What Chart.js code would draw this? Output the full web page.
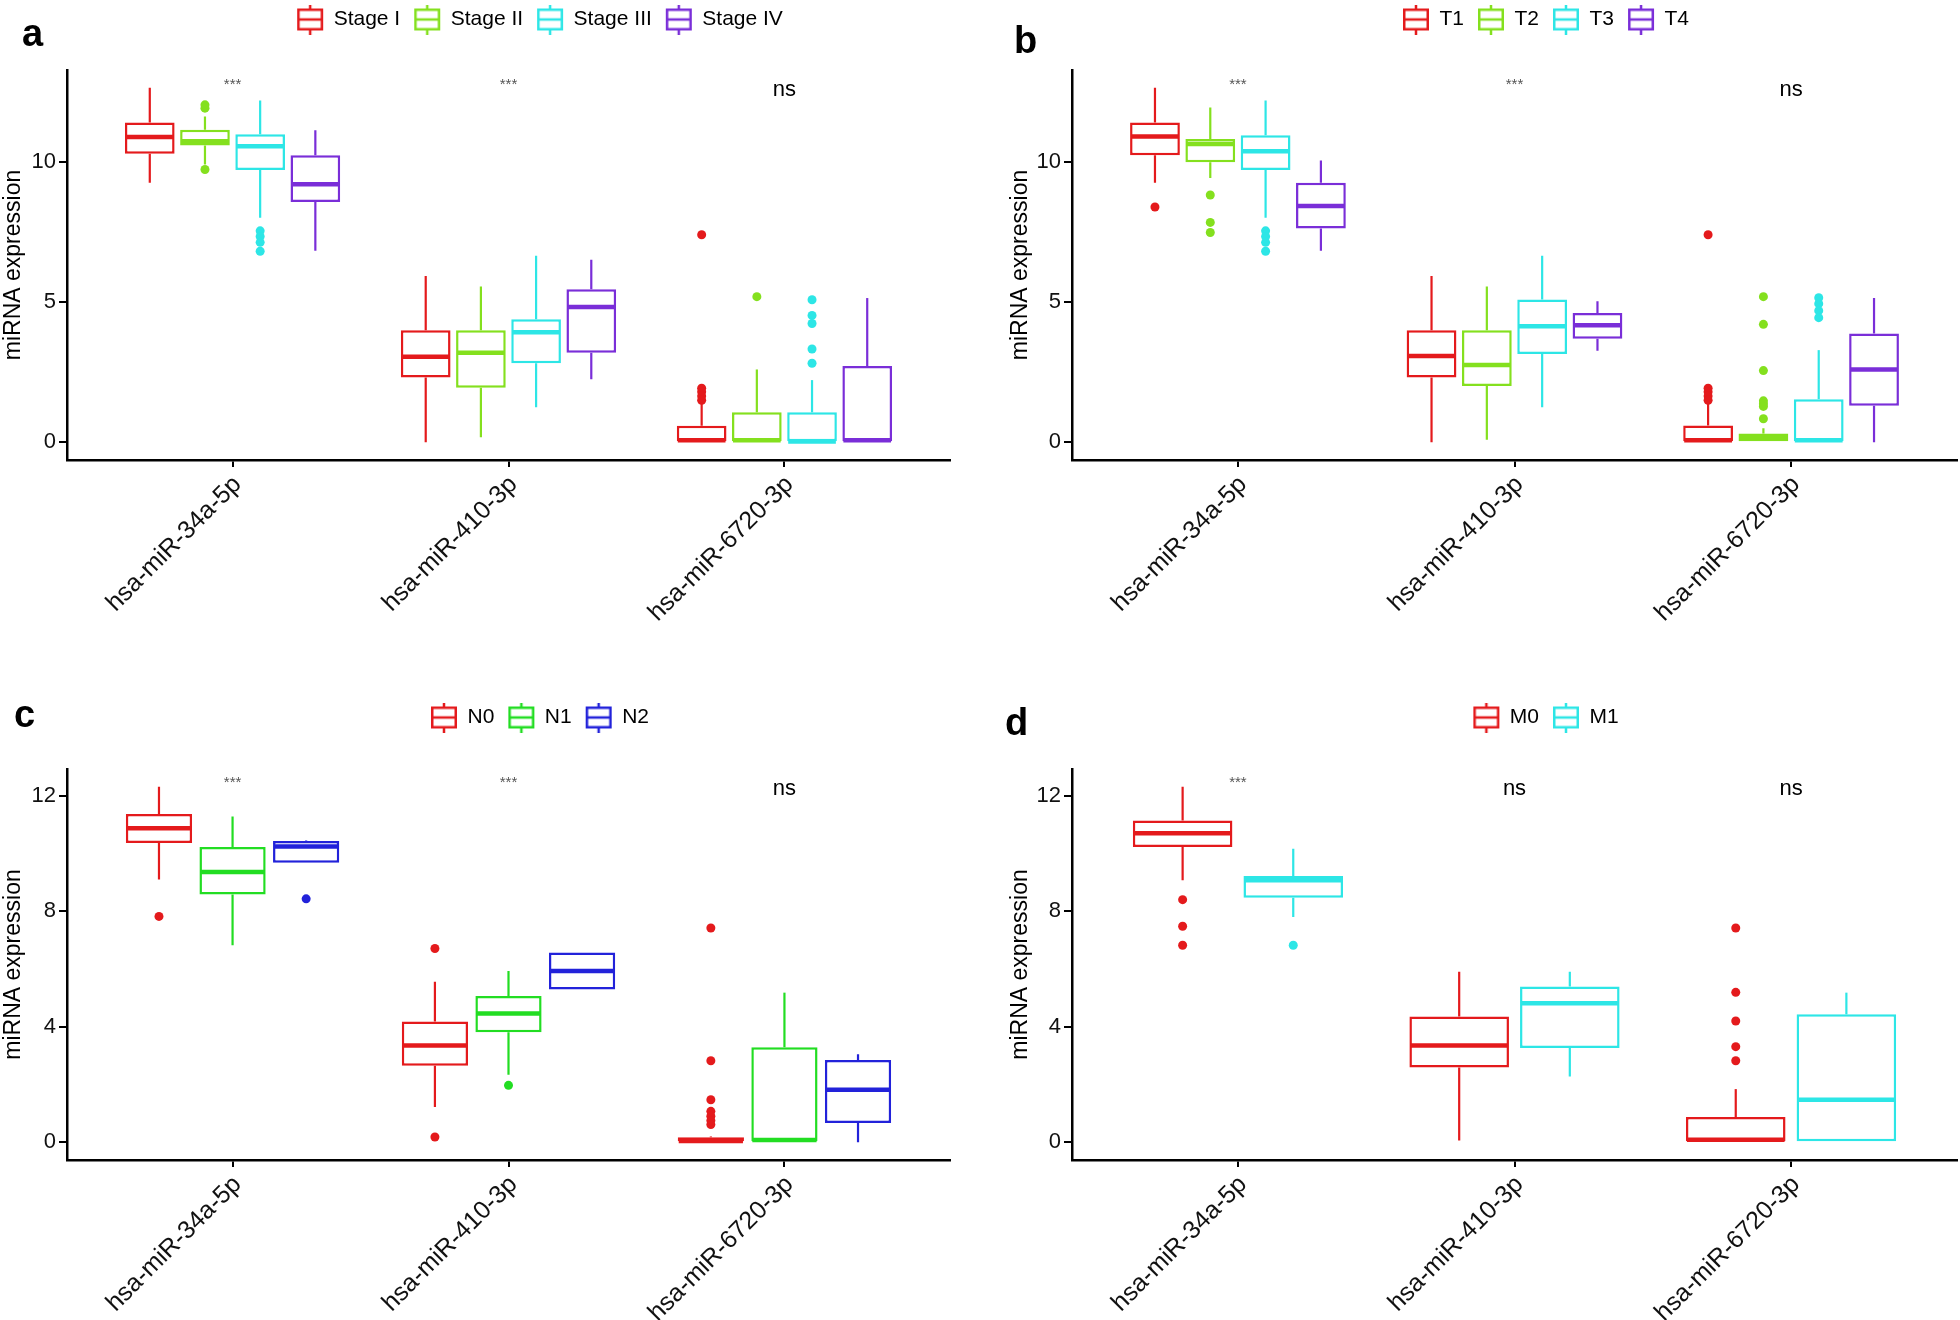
<!DOCTYPE html>
<html><head><meta charset="utf-8">
<script src="https://cdn.jsdelivr.net/npm/chart.js@4.4.1/dist/chart.umd.min.js"></script>
<style>
html,body{margin:0;padding:0;background:#fff;overflow:hidden;width:1960px;height:1320px;position:relative}
canvas{position:absolute}
.lbl{position:absolute;font:bold 38px 'Liberation Sans',Arial,sans-serif;line-height:38px;color:#000}
</style></head><body>
<canvas id="pa"></canvas><canvas id="pb"></canvas><canvas id="pc"></canvas><canvas id="pd"></canvas>
<div class="lbl" style="left:22px;top:14px">a</div>
<div class="lbl" style="left:1014px;top:21px">b</div>
<div class="lbl" style="left:14px;top:695px">c</div>
<div class="lbl" style="left:1005px;top:703px">d</div>
<script>
// ---------------- DATA ----------------
const categories = ['hsa-miR-34a-5p', 'hsa-miR-410-3p', 'hsa-miR-6720-3p'];
const yTicksAB = [0, 5, 10];
const yTicksCD = [0, 4, 8, 12];
const sigA = ['***', '***', 'ns'];
const sigB = ['***', '***', 'ns'];
const sigC = ['***', '***', 'ns'];
const sigD = ['***', 'ns', 'ns'];

// panel a: stage
const stageNames = ['Stage I', 'Stage II', 'Stage III', 'Stage IV'];
const stageI   = { lo: [9.27, 0, 0],    q1: [10.3, 2.31, 0],  med: [10.9, 3.05, 0.07],  q3: [11.42, 4.0, 0.59], hi: [12.66, 5.94, 1.4],
                   out: [[], [], [7.41, 1.93, 1.8, 1.65, 1.5]] };
const stageII  = { lo: [9.92, 0.18, 0], q1: [10.6, 1.95, 0],  med: [10.75, 3.2, 0.07],  q3: [11.16, 4.0, 1.07], hi: [11.63, 5.56, 2.6],
                   out: [[11.93, 12.05, 9.74], [], [5.2]] };
const stageIII = { lo: [8.02, 1.25, 0], q1: [9.72, 2.82, 0],  med: [10.57, 3.93, 0.03], q3: [11.0, 4.39, 1.07], hi: [12.2, 6.66, 2.22],
                   out: [[7.55, 7.35, 7.14, 6.82], [], [5.09, 4.53, 4.24, 3.33, 2.82]] };
const stageIV  = { lo: [6.84, 2.25, 0], q1: [8.58, 3.2, 0],   med: [9.21, 4.83, 0.07],  q3: [10.25, 5.46, 2.72], hi: [11.14, 6.52, 5.15],
                   out: [[], [], []] };

// panel b: T
const tNames = ['T1', 'T2', 'T3', 'T4'];
const t1 = { lo: [9.27, 0, 0],    q1: [10.25, 2.31, 0], med: [10.92, 3.08, 0.07], q3: [11.42, 4.0, 0.6],  hi: [12.66, 5.94, 1.4],
             out: [[8.4], [], [7.41, 1.93, 1.8, 1.65, 1.5]] };
const t2 = { lo: [9.44, 0.09, 0], q1: [10.0, 2.01, 0],  med: [10.65, 2.76, 0.19], q3: [10.83, 4.0, 0.31], hi: [11.95, 5.56, 0.5],
             out: [[8.83, 7.85, 7.49], [], [5.2, 4.21, 2.56, 1.48, 1.38, 1.28, 0.84]] };
const t3 = { lo: [8.02, 1.25, 0], q1: [9.72, 3.15, 0],  med: [10.39, 4.14, 0.07], q3: [10.96, 5.1, 1.54], hi: [12.2, 6.66, 3.29],
             out: [[7.55, 7.35, 7.14, 6.82], [], [5.16, 4.95, 4.7, 4.45]] };
const t4 = { lo: [6.84, 3.27, 0], q1: [7.63, 3.7, 1.3], med: [8.44, 4.18, 2.6],   q3: [9.27, 4.62, 3.88], hi: [10.06, 5.04, 5.15],
             out: [[], [], []] };

// panel c: N
const nNames = ['N0', 'N1', 'N2'];
const n0 = { lo: [9.1, 1.22, 0],  q1: [10.36, 2.65, 0], med: [10.87, 3.35, 0.04], q3: [11.37, 4.18, 0.17], hi: [12.31, 5.56, 0.2],
             out: [[7.82], [6.71, 0.18], [7.42, 2.82, 1.47, 1.07, 0.9, 0.75, 0.61]] };
const n1 = { lo: [6.82, 2.34, 0], q1: [8.58, 3.81, 0],  med: [9.36, 4.46, 0.08],  q3: [10.22, 5.06, 3.29], hi: [11.28, 5.93, 5.18],
             out: [[], [1.97], []] };
const n2 = { lo: [9.68, 5.29, 0], q1: [9.68, 5.29, 0.67], med: [10.24, 5.93, 1.82], q3: [10.43, 6.57, 2.85], hi: [10.45, 6.57, 3.05],
             out: [[8.43], [], []] };

// panel d: M
const mNames = ['M0', 'M1'];
const m0 = { lo: [9.07, 0.06, 0], q1: [10.22, 2.59, 0], med: [10.7, 3.35, 0.09], q3: [11.14, 4.35, 0.87], hi: [12.31, 5.9, 1.84],
             out: [[8.4, 7.48, 6.82], [], [7.42, 5.19, 4.2, 3.31, 2.82]] };
const m1 = { lo: [7.8, 2.28, 0],  q1: [8.47, 3.26, 0],  med: [9.07, 4.81, 1.47], q3: [9.22, 5.39, 4.43], hi: [10.16, 5.9, 5.18],
             out: [[6.82], [], []] };

// ---------------- STYLE ----------------
const RED = '#E41A1C', LIME = '#84E01E', CYAN = '#2DE6E6', PURPLE = '#7A2ED8', GREEN = '#22DD22', BLUE = '#2222DA';
const FONT = "'Liberation Sans', Arial, sans-serif";
Chart.defaults.font.family = FONT;

function glyph(color) {
  const c = document.createElement('canvas');
  c.width = 28; c.height = 30;
  const g = c.getContext('2d');
  g.strokeStyle = color; g.lineWidth = 2.5;
  g.beginPath(); g.moveTo(14, 0); g.lineTo(14, 5); g.moveTo(14, 25); g.lineTo(14, 30); g.stroke();
  g.strokeRect(2.25, 5.25, 23.5, 19.5);
  g.beginPath(); g.moveTo(2, 15); g.lineTo(26, 15); g.stroke();
  return c;
}

const boxExtras = {
  id: 'boxExtras',
  afterDatasetsDraw(chart, args, opts) {
    const ctx = chart.ctx, ys = chart.scales.y, xs = chart.scales.x;
    const py = v => ys.getPixelForValue(v);
    ctx.save();
    chart.data.datasets.forEach((ds, di) => {
      const st = ds.stats; if (!st) return;
      const meta = chart.getDatasetMeta(di);
      meta.data.forEach((bar, i) => {
        const cx = bar.x, w = bar.width;
        ctx.strokeStyle = ds.borderColor; ctx.fillStyle = ds.borderColor;
        ctx.lineWidth = 2.2;
        ctx.beginPath();
        ctx.moveTo(cx, py(st.q3[i])); ctx.lineTo(cx, py(st.hi[i]));
        ctx.moveTo(cx, py(st.q1[i])); ctx.lineTo(cx, py(st.lo[i]));
        ctx.stroke();
        ctx.lineWidth = 4.5;
        ctx.beginPath(); ctx.moveTo(cx - w / 2 + 1, py(st.med[i])); ctx.lineTo(cx + w / 2 - 1, py(st.med[i])); ctx.stroke();
        st.out[i].forEach(v => { ctx.beginPath(); ctx.arc(cx, py(v), 4.5, 0, Math.PI * 2); ctx.fill(); });
      });
    });
    (opts.sig || []).forEach((s, i) => {
      const star = s.indexOf('*') >= 0;
      ctx.font = star ? "15px " + FONT : "22px " + FONT;
      ctx.fillStyle = star ? '#555' : '#000';
      ctx.textAlign = 'center'; ctx.textBaseline = 'middle';
      ctx.fillText(s, xs.getPixelForValue(i), py(star ? opts.starY : opts.nsY));
    });
    ctx.restore();
  }
};

function makePanel(p) {
  const cv = document.getElementById(p.id);
  const h = (p.plotBottom - p.top) + 170;
  cv.width = p.w; cv.height = h;
  cv.style.left = p.left + 'px'; cv.style.top = p.top + 'px';
  const all = p.series.flatMap(s => [...s.lo, ...s.hi, ...s.out.flat()]);
  const dMax = Math.max(...all), dMin = Math.min(...all), pad = 0.05 * (dMax - dMin);
  new Chart(cv, {
    type: 'bar',
    data: {
      datasets: p.series.map((s, k) => ({
        label: p.names[k],
        data: categories.map((c, i) => ({ x: i, y: [s.q1[i], s.q3[i]] })),
        stats: s,
        backgroundColor: '#ffffff', borderColor: p.colors[k], borderWidth: 2.5, borderSkipped: false,
        categoryPercentage: 0.8, barPercentage: 0.9, xAxisID: 'x', yAxisID: 'y'
      }))
    },
    options: {
      responsive: false, animation: false, devicePixelRatio: 1,
      layout: { padding: 0 },
      plugins: {
        legend: {
          display: true, position: 'top', align: 'center',
          labels: {
            usePointStyle: true, pointStyleWidth: 26, padding: 14,
            font: { size: 21, family: FONT }, color: '#000',
            generateLabels: chart => chart.data.datasets.map((ds, i) => ({
              text: ds.label, pointStyle: glyph(ds.borderColor), fillStyle: '#fff',
              strokeStyle: ds.borderColor, lineWidth: 0, hidden: false, datasetIndex: i, fontColor: '#000'
            }))
          }
        },
        tooltip: { enabled: false },
        boxExtras: { sig: p.sig, starY: p.starY, nsY: p.nsY }
      },
      scales: {
        x: {
          type: 'linear', min: -0.6, max: categories.length - 1 + 0.6, offset: false,
          afterBuildTicks: s => { s.ticks = categories.map((c, i) => ({ value: i })); },
          ticks: { autoSkip: false, maxRotation: 45, minRotation: 45, padding: 3, labelOffset: 5,
                   callback: v => categories[v], font: { size: 25, family: FONT }, color: '#111' },
          grid: { display: true, offset: false, drawOnChartArea: false, drawTicks: true, tickLength: 7, color: '#000', lineWidth: 2 },
          border: { display: true, color: '#000', width: 2.5 },
          afterFit: s => { s.height = 170; }
        },
        y: {
          type: 'linear', min: dMin - pad, max: dMax + pad,
          afterBuildTicks: s => { s.ticks = p.yTicks.map(v => ({ value: v })); },
          ticks: { padding: 3, font: { size: 22, family: FONT }, color: '#111' },
          grid: { display: true, offset: false, drawOnChartArea: false, drawTicks: true, tickLength: 8, color: '#000', lineWidth: 2 },
          border: { display: true, color: '#000', width: 2.5 },
          title: { display: true, text: 'miRNA expression', font: { size: 23, family: FONT }, color: '#000',
                   padding: { top: p.titlePad, bottom: 0 } },
          afterFit: s => { s.width = p.yW; }
        },
        xTop: {
          type: 'linear', position: 'top', display: true,
          ticks: { display: false }, grid: { display: false }, border: { display: false },
          afterFit: s => { s.height = p.topH; }
        },
        yRight: {
          type: 'linear', position: 'right', display: true,
          ticks: { display: false }, grid: { display: false }, border: { display: false },
          afterFit: s => { s.width = p.rW; }
        }
      }
    },
    plugins: [boxExtras]
  });
}

makePanel({ id: 'pa', left: 0, top: -5, w: 1080, yW: 67, rW: 130, topH: 30, plotBottom: 460, titlePad: 0,
  series: [stageI, stageII, stageIII, stageIV], names: stageNames, colors: [RED, LIME, CYAN, PURPLE],
  yTicks: yTicksAB, sig: sigA, starY: 12.75, nsY: 12.59 });
makePanel({ id: 'pb', left: 980, top: -5, w: 1132, yW: 92, rW: 155, topH: 30, plotBottom: 460, titlePad: 27,
  series: [t1, t2, t3, t4], names: tNames, colors: [RED, LIME, CYAN, PURPLE],
  yTicks: yTicksAB, sig: sigB, starY: 12.75, nsY: 12.59 });
makePanel({ id: 'pc', left: 0, top: 693, w: 1080, yW: 67, rW: 130, topH: 31, plotBottom: 1160, titlePad: 0,
  series: [n0, n1, n2], names: nNames, colors: [RED, GREEN, BLUE],
  yTicks: yTicksCD, sig: sigC, starY: 12.46, nsY: 12.25 });
makePanel({ id: 'pd', left: 980, top: 693, w: 1132, yW: 92, rW: 155, topH: 31, plotBottom: 1160, titlePad: 27,
  series: [m0, m1], names: mNames, colors: [RED, CYAN],
  yTicks: yTicksCD, sig: sigD, starY: 12.46, nsY: 12.25 });
</script>
</body></html>
